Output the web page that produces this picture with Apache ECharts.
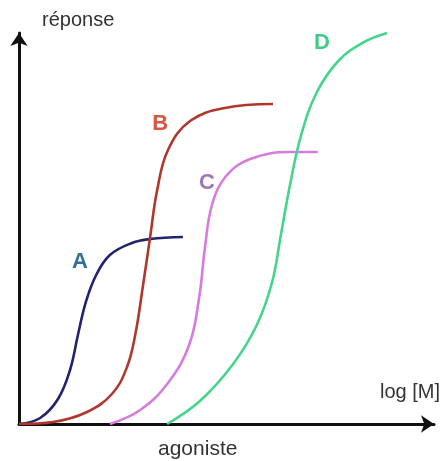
<!DOCTYPE html>
<html>
<head>
<meta charset="utf-8">
<title>réponse / log [M]</title>
<script src="https://cdn.jsdelivr.net/npm/echarts@6/dist/echarts.min.js"></script>
<style>
  html, body { margin: 0; padding: 0; background: #fff; }
  #chart { width: 444px; height: 461px; }
</style>
</head>
<body>
<div id="chart"></div>
<script>
// courbes dose-réponse : [log M, réponse]
const curveA = [[0, 0], [0.51, 1.53], [0.94, 6.39], [1.23, 13.81], [1.42, 22.76], [1.61, 31.2], [1.86, 38.11], [2.19, 43.22], [2.72, 46.29], [3.16, 47.31], [3.95, 47.83]];
const curveB = [[0, 0], [0.82, 0.51], [1.64, 3.07], [2.25, 7.8], [2.6, 14.5], [2.8, 22.76], [2.99, 35.55], [3.16, 47.83], [3.33, 59.85], [3.59, 70.08], [4.12, 77.49], [4.96, 80.82], [6.12, 81.84]];
const curveC = [[2.19, 0], [2.92, 3.58], [3.59, 10.49], [4.1, 20.2], [4.34, 32.23], [4.48, 45.01], [4.65, 56.01], [4.99, 63.43], [5.57, 67.77], [6.53, 69.57], [7.2, 69.57]];
const curveD = [[3.57, 0], [4.36, 5.88], [5.16, 15.35], [5.73, 25.32], [6.1, 36.32], [6.31, 48.34], [6.53, 61.13], [6.8, 73.91], [7.18, 84.91], [7.7, 92.9], [8.3, 97.6], [8.87, 100]];

const names = ['A', 'B', 'C', 'D'];
const lineColors = ['#22236e', '#b0372c', '#d67cdc', '#44d58a'];
const labelColors = ['#2f7098', '#d4593f', '#a275b8', '#43c98a'];
const labelPos = [[1.47, 41.4], [3.4, 76.7], [4.53, 61.6], [7.3, 97.4]];

const chart = echarts.init(document.getElementById('chart'));

const makeSeries = (data, i) => ({
  name: names[i],
  type: 'line',
  data: data,
  smooth: 0.4,
  showSymbol: false,
  lineStyle: { color: lineColors[i], width: 2.6 },
  markPoint: {
    symbol: 'circle',
    symbolSize: 0,
    data: [{ coord: labelPos[i] }],
    label: {
      show: true,
      position: 'inside',
      formatter: names[i],
      color: labelColors[i],
      fontSize: 22,
      fontWeight: 'bold',
      fontFamily: 'Liberation Sans'
    }
  }
});

const option = {
  animation: false,
  backgroundColor: '#ffffff',
  grid: { left: 19, right: 10, top: 33, bottom: 37 },
  xAxis: {
    type: 'value',
    min: 0,
    max: 10,
    splitLine: { show: false },
    axisTick: { show: false },
    axisLabel: { show: false },
    axisLine: {
      onZero: false,
      symbol: ['none', 'arrow'],
      symbolSize: [13, 13],
      lineStyle: { color: '#111', width: 3 }
    }
  },
  yAxis: {
    type: 'value',
    min: 0,
    max: 100,
    splitLine: { show: false },
    axisTick: { show: false },
    axisLabel: { show: false },
    axisLine: {
      show: true,
      onZero: false,
      symbol: ['none', 'arrow'],
      symbolSize: [13, 13],
      lineStyle: { color: '#111', width: 3 }
    }
  },
  graphic: [
    {
      type: 'text', left: 42, top: 10,
      style: { text: 'réponse', fontSize: 20, fontFamily: 'Liberation Sans', fill: '#333' }
    },
    {
      type: 'text', right: 4, top: 382,
      style: { text: 'log [M]', fontSize: 20, fontFamily: 'Liberation Sans', fill: '#333' }
    },
    {
      type: 'text', left: 158, top: 439,
      style: { text: 'agoniste', fontSize: 21, fontFamily: 'Liberation Sans', fill: '#333' }
    }
  ],
  series: [curveA, curveB, curveC, curveD].map(makeSeries)
};

chart.setOption(option);
</script>
</body>
</html>
